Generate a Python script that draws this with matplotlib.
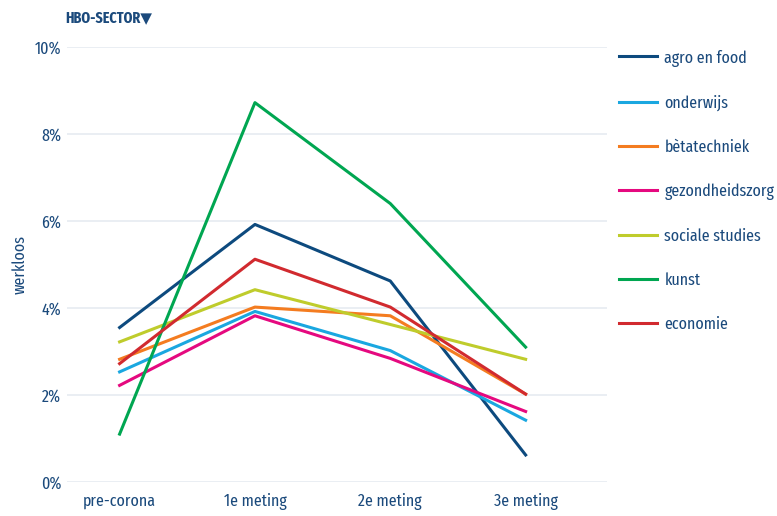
import matplotlib.pyplot as plt
from matplotlib.ticker import FuncFormatter

plt.rcParams['font.family'] = ['Fira Sans Extra Condensed', 'Fira Sans Condensed',
                               'DejaVu Sans']

# meetmomenten
metingen = ['pre-corona', '1e meting', '2e meting', '3e meting']

# werkloosheid per sector (%)
agro_en_food = [3.55, 5.92, 4.62, 0.62]
onderwijs = [2.53, 3.92, 3.02, 1.42]
betatechniek = [2.82, 4.02, 3.82, 2.02]
gezondheidszorg = [2.22, 3.82, 2.84, 1.62]
sociale_studies = [3.22, 4.42, 3.62, 2.82]
kunst = [1.1, 8.72, 6.4, 3.1]
economie = [2.72, 5.12, 4.02, 2.02]

sectoren = ['agro en food', 'onderwijs', 'bètatechniek', 'gezondheidszorg',
            'sociale studies', 'kunst', 'economie']
reeksen = [agro_en_food, onderwijs, betatechniek, gezondheidszorg,
           sociale_studies, kunst, economie]
kleuren = ['#0d4a7e', '#1aa7e0', '#f47c20', '#e5097f',
           '#bfcc2c', '#00a651', '#d12a2f']

tekst = '#1b4a7c'

fig = plt.figure(figsize=(7.77, 5.16), dpi=100)
ax = fig.add_axes([0.086, 0.066, 0.695, 0.843])

x = range(len(metingen))
for naam, waarden, kleur in zip(sectoren, reeksen, kleuren):
    ax.plot(x, waarden, color=kleur, lw=2.2, label=naam)

ax.set_xlim(-0.39, 3.6)
ax.set_ylim(0, 10)
ax.set_yticks([0, 2, 4, 6, 8, 10])
ax.yaxis.set_major_formatter(FuncFormatter(lambda v, p: f'{v:.0f}%'))
ax.set_xticks(list(x))
ax.set_xticklabels(metingen)
ax.grid(axis='y', color='#e6ebf1', lw=1.2)
ax.set_axisbelow(True)
for s in ax.spines.values():
    s.set_visible(False)
ax.tick_params(length=0, labelsize=12.5, colors=tekst, pad=8)
ax.tick_params(axis='y', pad=4)
ax.set_ylabel('werkloos', color=tekst, fontsize=12.5, labelpad=5)

fig.text(0.084, 0.966, 'HBO-SECTOR\u25BC', color=tekst, fontsize=11,
         fontweight='bold', ha='left', va='center')

leg = ax.legend(loc='upper left', bbox_to_anchor=(0.797, 0.904),
                bbox_transform=fig.transFigure, frameon=False,
                fontsize=12.5, labelspacing=1.62, handlelength=2.15,
                handletextpad=0.45, borderaxespad=0, borderpad=0)
for t in leg.get_texts():
    t.set_color(tekst)

fig.savefig('out.png', dpi=100)
